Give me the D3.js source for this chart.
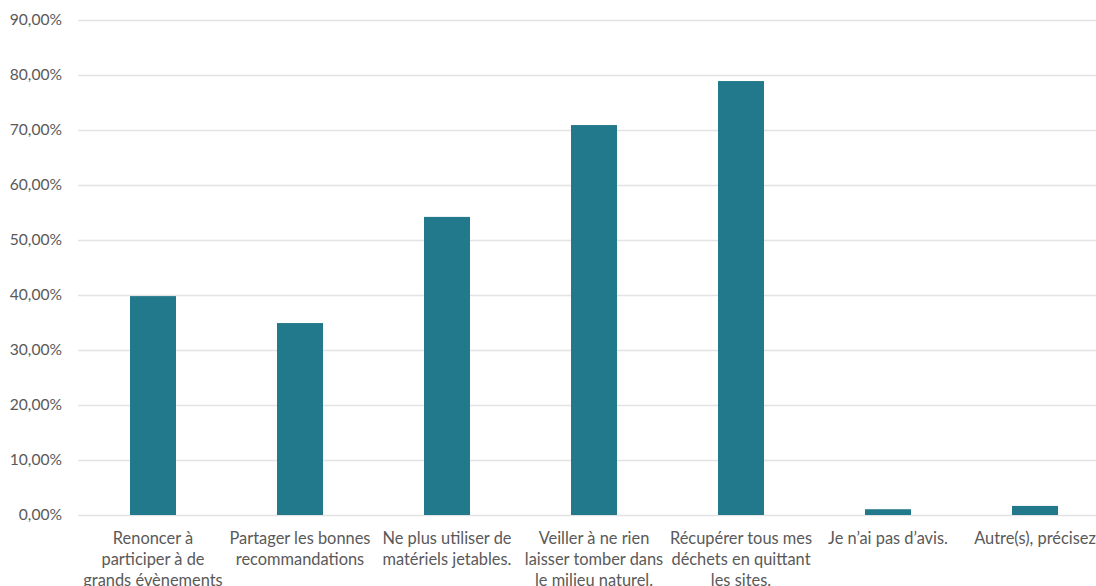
<!DOCTYPE html>
<html><head><meta charset="utf-8">
<script src="https://cdn.jsdelivr.net/npm/d3@7"></script>
<style>html,body{margin:0;padding:0;background:#fff;overflow:hidden}</style>
</head><body><svg id="c" width="1096" height="586"></svg>
<script>
const categories = [
  "Renoncer à|participer à de|grands évènements",
  "Partager les bonnes|recommandations",
  "Ne plus utiliser de|matériels jetables.",
  "Veiller à ne rien|laisser tomber dans|le milieu naturel.",
  "Récupérer tous mes|déchets en quittant|les sites.",
  "Je n’ai pas d’avis.",
  "Autre(s), précisez"
];
const values = [0.398, 0.349, 0.542, 0.709, 0.789, 0.0105, 0.0165];
const yTicks = [0, 0.1, 0.2, 0.3, 0.4, 0.5, 0.6, 0.7, 0.8, 0.9];

const svg = d3.select("#c");
const font = "Lato, 'Open Sans', sans-serif";
const x = d3.scaleBand().domain(categories).range([79.5, 1108.5]).paddingInner(0.687).paddingOuter(0.3435);
const y = d3.scaleLinear().domain([0, 0.9]).range([515, 20]);
const fmt = v => d3.format(".2f")(v * 100).replace(".", ",") + "%";

// gridlines
svg.append("g").selectAll("line").data(yTicks).join("line")
  .attr("x1", 78).attr("x2", 1110)
  .attr("y1", d => Math.round(y(d)) + 0.5).attr("y2", d => Math.round(y(d)) + 0.5)
  .attr("stroke", "#e3e3e3").attr("stroke-width", 1.5);

// y tick labels
svg.append("g").selectAll("text").data(yTicks).join("text")
  .attr("x", 62).attr("y", d => y(d)).attr("dy", "0.35em")
  .attr("text-anchor", "end").attr("font-family", font).attr("font-size", 15.6)
  .attr("fill", "#595959").text(fmt);

// bars
svg.append("g").selectAll("rect").data(values).join("rect")
  .attr("x", (d, i) => x(categories[i])).attr("width", x.bandwidth())
  .attr("y", d => y(d)).attr("height", d => y(0) - y(d))
  .attr("fill", "#22798b");

// category labels
const lab = svg.append("g").selectAll("text").data(categories).join("text")
  .attr("x", d => x(d) + x.bandwidth() / 2).attr("y", 544)
  .attr("text-anchor", "middle").attr("font-family", font).attr("font-size", 16.4)
  .attr("fill", "#595959");
lab.each(function(d) {
  d3.select(this).selectAll("tspan").data(d.split("|")).join("tspan")
    .attr("x", d3.select(this).attr("x")).attr("dy", (t, i) => i ? 21 : 0).text(t => t);
});
</script></body></html>
